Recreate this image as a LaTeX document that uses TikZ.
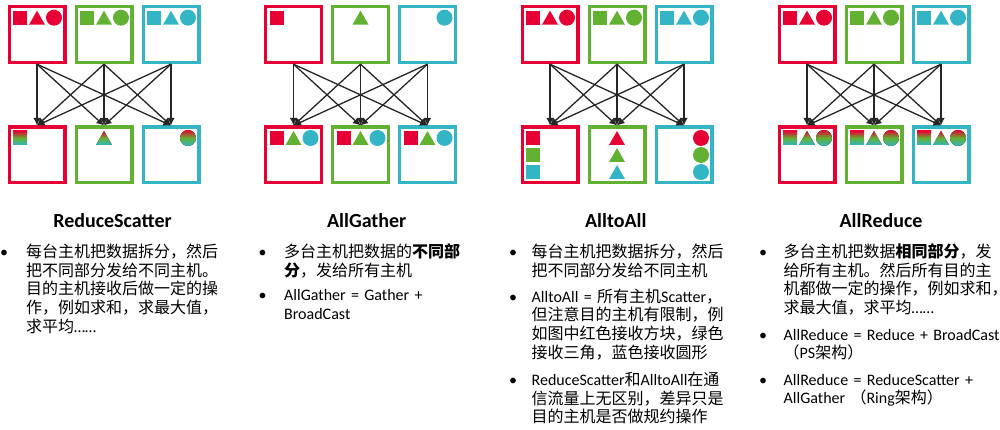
\documentclass[tikz,border=0pt]{standalone}
\usepackage{fontspec}
\setmainfont{Carlito}
\newfontfamily\cjk{Noto Sans CJK SC}
\newcommand{\entxt}[1]{{\rmfamily #1}}
\usetikzlibrary{arrows.meta}

\definecolor{dred}{HTML}{E60033}
\definecolor{dgreen}{HTML}{62B133}
\definecolor{dcyan}{HTML}{33B5C5}

\tikzset{
  box/.style={draw, line width=3.3pt, minimum size=55.7pt, inner sep=0pt},
  redbox/.style={box, draw=dred},
  greenbox/.style={box, draw=dgreen},
  cyanbox/.style={box, draw=dcyan},
  arr/.style={draw=black!85, line width=1.3pt, -{Latex[length=7.5pt,width=7.5pt]}},
  mix/.style={top color=dred, bottom color=dcyan, middle color=dgreen},
  title/.style={font=\fontsize{20}{24}\selectfont\bfseries, anchor=base},
  para/.style={font=\fontsize{16}{18.7}\selectfont\cjk, anchor=base west, text width=240pt, align=left, inner sep=0pt},
  paraen/.style={para, font=\fontsize{16}{18.7}\selectfont},
  bul/.style={font=\fontsize{16}{18.7}\selectfont, anchor=base, inner sep=0pt}
}

% square, triangle and dot inside a box: node, dx, dy, colour
\newcommand{\datasq}[4]{\fill[#4] ([shift={({#2-7},{#3-7})}]#1.center) rectangle ++(14,14);}
\newcommand{\datatri}[4]{\fill[#4] ([shift={({#2-8},{#3+7})}]#1.center) -- ++(16,0) -- ++(-8,-14) -- cycle;}
\newcommand{\datadot}[4]{\fill[#4] ([shift={(#2,#3)}]#1.center) circle (8pt);}
\newcommand{\datarow}[2]{\datasq{#1}{-17}{-17}{#2}\datatri{#1}{0}{-17}{#2}\datadot{#1}{17}{-17}{#2}}

\begin{document}
\begin{tikzpicture}[x=1pt, y=-1pt]
\useasboundingbox (0, 0) rectangle (1000, 430);

% ReduceScatter
\node [redbox] (rs-t1) at (37, 34.7) {};
\node [greenbox] (rs-t2) at (104, 34.7) {};
\node [cyanbox] (rs-t3) at (171, 34.7) {};
\node [redbox] (rs-b1) at (37, 155) {};
\node [greenbox] (rs-b2) at (104, 155) {};
\node [cyanbox] (rs-b3) at (171, 155) {};
\datarow{rs-t1}{dred}
\datarow{rs-t2}{dgreen}
\datarow{rs-t3}{dcyan}
\datasq{rs-b1}{-17}{-17}{mix}
\datatri{rs-b2}{0}{-17}{mix}
\datadot{rs-b3}{17}{-17}{mix}
\draw [arr] (rs-t1.south) -- (rs-b1.north);
\draw [arr] (rs-t1.south) -- (rs-b2.north);
\draw [arr] (rs-t1.south) -- (rs-b3.north);
\draw [arr] (rs-t2.south) -- (rs-b1.north);
\draw [arr] (rs-t2.south) -- (rs-b2.north);
\draw [arr] (rs-t2.south) -- (rs-b3.north);
\draw [arr] (rs-t3.south) -- (rs-b1.north);
\draw [arr] (rs-t3.south) -- (rs-b2.north);
\draw [arr] (rs-t3.south) -- (rs-b3.north);
\node [title] (rs-title) at (112.5, 227.5) {ReduceScatter};
\node [para] (rs-p1) at (26, 257.3) {每台主机把数据拆分，然后\\把不同部分发给不同主机。\\目的主机接收后做一定的操\\作，例如求和，求最大值，\\求平均\entxt{……}};
\node [bul] (rs-dot1) at ([xshift=-22pt]rs-p1.base west) {\textbullet};

% AllGather
\node [redbox] (ag-t1) at (293.5, 34.7) {};
\node [greenbox] (ag-t2) at (360.5, 34.7) {};
\node [cyanbox] (ag-t3) at (427.5, 34.7) {};
\node [redbox] (ag-b1) at (293.5, 155) {};
\node [greenbox] (ag-b2) at (360.5, 155) {};
\node [cyanbox] (ag-b3) at (427.5, 155) {};
\datasq{ag-t1}{-17}{-17}{dred}
\datatri{ag-t2}{0}{-17}{dgreen}
\datadot{ag-t3}{17}{-17}{dcyan}
\datasq{ag-b1}{-17}{-17}{dred}
\datatri{ag-b1}{0}{-17}{dgreen}
\datadot{ag-b1}{17}{-17}{dcyan}
\datasq{ag-b2}{-17}{-17}{dred}
\datatri{ag-b2}{0}{-17}{dgreen}
\datadot{ag-b2}{17}{-17}{dcyan}
\datasq{ag-b3}{-17}{-17}{dred}
\datatri{ag-b3}{0}{-17}{dgreen}
\datadot{ag-b3}{17}{-17}{dcyan}
\draw [arr] (ag-t1.south) -- (ag-b1.north);
\draw [arr] (ag-t1.south) -- (ag-b2.north);
\draw [arr] (ag-t1.south) -- (ag-b3.north);
\draw [arr] (ag-t2.south) -- (ag-b1.north);
\draw [arr] (ag-t2.south) -- (ag-b2.north);
\draw [arr] (ag-t2.south) -- (ag-b3.north);
\draw [arr] (ag-t3.south) -- (ag-b1.north);
\draw [arr] (ag-t3.south) -- (ag-b2.north);
\draw [arr] (ag-t3.south) -- (ag-b3.north);
\node [title] (ag-title) at (366.7, 227.5) {AllGather};
\node [para] (ag-p1) at (284, 257.5) {多台主机把数据的{\bfseries 不同部}\\{\bfseries 分}，发给所有主机};
\node [paraen] (ag-p2) at (284, 300.5) {AllGather = Gather +\\BroadCast};
\node [bul] (ag-dot1) at ([xshift=-21.5pt]ag-p1.base west) {\textbullet};
\node [bul] (ag-dot2) at ([xshift=-21.5pt]ag-p2.base west) {\textbullet};

% AlltoAll
\node [redbox] (aa-t1) at (550, 34.7) {};
\node [greenbox] (aa-t2) at (617, 34.7) {};
\node [cyanbox] (aa-t3) at (684, 34.7) {};
\node [redbox] (aa-b1) at (550, 155) {};
\node [greenbox] (aa-b2) at (617, 155) {};
\node [cyanbox] (aa-b3) at (684, 155) {};
\datarow{aa-t1}{dred}
\datarow{aa-t2}{dgreen}
\datarow{aa-t3}{dcyan}
\datasq{aa-b1}{-17}{-17}{dred}
\datasq{aa-b1}{-17}{0}{dgreen}
\datasq{aa-b1}{-17}{17}{dcyan}
\datatri{aa-b2}{0}{-17}{dred}
\datatri{aa-b2}{0}{0}{dgreen}
\datatri{aa-b2}{0}{17}{dcyan}
\datadot{aa-b3}{17}{-17}{dred}
\datadot{aa-b3}{17}{0}{dgreen}
\datadot{aa-b3}{17}{17}{dcyan}
\draw [arr] (aa-t1.south) -- (aa-b1.north);
\draw [arr] (aa-t1.south) -- (aa-b2.north);
\draw [arr] (aa-t1.south) -- (aa-b3.north);
\draw [arr] (aa-t2.south) -- (aa-b1.north);
\draw [arr] (aa-t2.south) -- (aa-b2.north);
\draw [arr] (aa-t2.south) -- (aa-b3.north);
\draw [arr] (aa-t3.south) -- (aa-b1.north);
\draw [arr] (aa-t3.south) -- (aa-b2.north);
\draw [arr] (aa-t3.south) -- (aa-b3.north);
\node [title] (aa-title) at (615.8, 227.5) {AlltoAll};
\node [para] (aa-p1) at (531.5, 257.5) {每台主机把数据拆分，然后\\把不同部分发给不同主机};
\node [para] (aa-p2) at (531.5, 302) {\entxt{AlltoAll = }所有主机\entxt{Scatter}，\\但注意目的主机有限制，例\\如图中红色接收方块，绿色\\接收三角，蓝色接收圆形};
\node [para] (aa-p3) at (531.5, 385.5) {\entxt{ReduceScatter}和\entxt{AlltoAll}在通\\信流量上无区别，差异只是\\目的主机是否做规约操作};
\node [bul] (aa-dot1) at ([xshift=-18.5pt]aa-p1.base west) {\textbullet};
\node [bul] (aa-dot2) at ([xshift=-18.5pt]aa-p2.base west) {\textbullet};
\node [bul] (aa-dot3) at ([xshift=-18.5pt]aa-p3.base west) {\textbullet};

% AllReduce
\node [redbox] (ar-t1) at (807, 34.7) {};
\node [greenbox] (ar-t2) at (874, 34.7) {};
\node [cyanbox] (ar-t3) at (941, 34.7) {};
\node [redbox] (ar-b1) at (807, 155) {};
\node [greenbox] (ar-b2) at (874, 155) {};
\node [cyanbox] (ar-b3) at (941, 155) {};
\datarow{ar-t1}{dred}
\datarow{ar-t2}{dgreen}
\datarow{ar-t3}{dcyan}
\datarow{ar-b1}{mix}
\datarow{ar-b2}{mix}
\datarow{ar-b3}{mix}
\draw [arr] (ar-t1.south) -- (ar-b1.north);
\draw [arr] (ar-t1.south) -- (ar-b2.north);
\draw [arr] (ar-t1.south) -- (ar-b3.north);
\draw [arr] (ar-t2.south) -- (ar-b1.north);
\draw [arr] (ar-t2.south) -- (ar-b2.north);
\draw [arr] (ar-t2.south) -- (ar-b3.north);
\draw [arr] (ar-t3.south) -- (ar-b1.north);
\draw [arr] (ar-t3.south) -- (ar-b2.north);
\draw [arr] (ar-t3.south) -- (ar-b3.north);
\node [title] (ar-title) at (881, 227.5) {AllReduce};
\node [para] (ar-p1) at (783.5, 257.5) {多台主机把数据{\bfseries 相同部分}，发\\给所有主机。然后所有目的主\\机都做一定的操作，例如求和，\\求最大值，求平均\entxt{……}};
\node [para] (ar-p2) at (783.5, 340) {\entxt{AllReduce = Reduce + BroadCast}\\（\entxt{PS}架构）};
\node [para] (ar-p3) at (783.5, 385) {\entxt{AllReduce = ReduceScatter +}\\\entxt{AllGather }（\entxt{Ring}架构）};
\node [bul] (ar-dot1) at ([xshift=-20.5pt]ar-p1.base west) {\textbullet};
\node [bul] (ar-dot2) at ([xshift=-20.5pt]ar-p2.base west) {\textbullet};
\node [bul] (ar-dot3) at ([xshift=-20.5pt]ar-p3.base west) {\textbullet};
\end{tikzpicture}
\end{document}
